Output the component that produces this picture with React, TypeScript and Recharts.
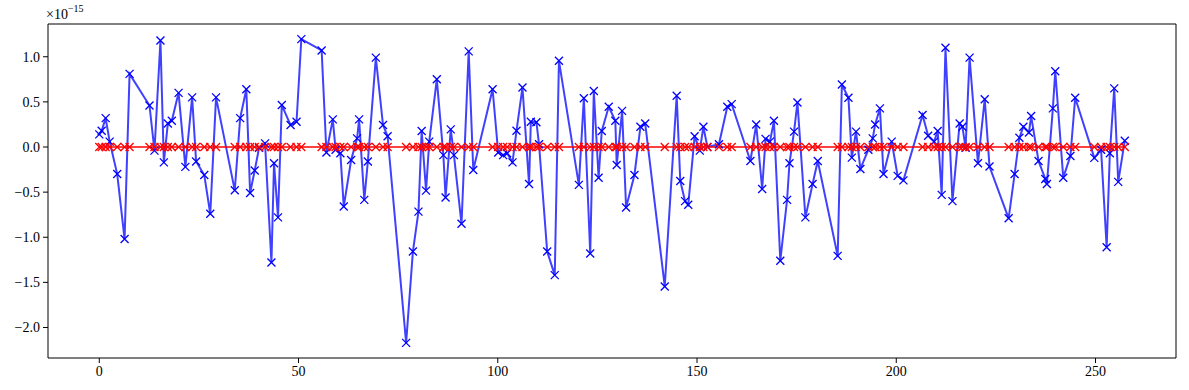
import { LineChart, Line, XAxis, YAxis, ReferenceArea } from "recharts";

// sample positions (shared by both series)
const X_POS = [
  0, 0.6, 1.6, 2.6, 4.5, 6.35, 7.6, 12.6, 13.85, 15.35, 16.2, 17.2, 18.2, 19.9, 21.6, 23.3, 24.3,
  26.35, 27.85, 29.3, 34.0, 35.35, 36.9, 37.85, 39.0, 40.1, 41.6, 43.2, 43.85, 44.85, 45.8, 48.0,
  49.5, 50.7, 55.8, 57.0, 58.6, 59.3, 60.5, 61.35, 63.2, 64.7, 65.2, 66.5, 67.4, 69.4, 71.2, 72.35,
  77.0, 78.7, 80.1, 80.9, 82.0, 82.8, 84.7, 86.35, 86.9, 88.2, 89.0, 90.9, 92.7, 93.85, 98.7, 100.1,
  101.35, 102.35, 103.7, 104.7, 106.2, 107.85, 108.3, 109.7, 110.35, 112.4, 114.3, 115.35, 120.35,
  121.6, 123.2, 124.1, 125.3, 126.1, 127.85, 129.5, 129.85, 131.2, 132.2, 134.3, 135.8, 137.0,
  141.9, 144.9, 145.8, 147.0, 147.8, 149.4, 150.7, 151.6, 152.6, 155.5, 157.6, 158.7, 163.4, 164.85,
  166.35, 167.2, 168.3, 169.3, 170.9, 172.6, 173.2, 174.35, 175.2, 177.2, 179.0, 180.3, 185.3,
  186.35, 188.0, 188.85, 189.9, 191.0, 193.0, 194.1, 194.7, 195.9, 196.8, 198.85, 200.35, 201.8,
  206.6, 208.0, 209.5, 210.4, 211.4, 212.35, 214.1, 215.9, 216.6, 217.4, 218.4, 220.5, 222.2, 223.4,
  228.2, 229.7, 230.9, 231.9, 233.3, 233.85, 235.7, 237.4, 237.8, 239.3, 239.9, 241.9, 243.7, 244.9,
  249.7, 251.4, 252.8, 253.6, 254.7, 255.7, 257.35,
];

// blue series, in units of 1e-15
const BLUE = [
  0.14, 0.18, 0.32, 0.06, -0.3, -1.02, 0.81, 0.46, -0.04, 1.18, -0.17, 0.26, 0.29, 0.6, -0.22, 0.55, -0.16,
  -0.31, -0.74, 0.55, -0.48, 0.32, 0.64, -0.51, -0.26, -0.01, 0.04, -1.28, -0.18, -0.78, 0.465, 0.243,
  0.28, 1.195, 1.07, -0.06, 0.306, -0.03, -0.07, -0.66, -0.144, 0.096, 0.306, -0.586, -0.16, 0.99, 0.243, 0.12,
  -2.17, -1.158, -0.716, 0.177, -0.483, 0.06, 0.75, -0.09, -0.56, 0.195, -0.09, -0.85, 1.06, -0.254, 0.64, -0.06,
  -0.09, -0.07, -0.17, 0.18, 0.66, -0.41, 0.28, 0.275, 0.03, -1.158, -1.42, 0.955, -0.42,
  0.54, -1.18, 0.62, -0.34, 0.177, 0.446, 0.29, -0.2, 0.4, -0.67, -0.31, 0.225, 0.26,
  -1.545, 0.568, -0.376, -0.6, -0.64, 0.12, -0.04, 0.225, 0.0, 0.03, 0.446, 0.475, -0.155, 0.25,
  -0.465, 0.09, 0.06, 0.29, -1.26, -0.586, -0.18, 0.17, 0.494, -0.78, -0.41, -0.155, -1.206,
  0.693, 0.545, -0.118, 0.17, -0.243, -0.03, 0.096, 0.25, 0.428, -0.3, 0.06, -0.32, -0.37,
  0.354, 0.125, 0.06, 0.177, -0.53, 1.1, -0.6, 0.26, 0.225, -0.01, 0.99, -0.18, 0.53, -0.216,
  -0.79, -0.3, 0.103, 0.225, 0.16, 0.343, -0.155, -0.354, -0.41, 0.428, 0.84, -0.34, -0.1, 0.545,
  -0.12, -0.03, -1.11, -0.07, 0.65, -0.386, 0.07,
];

// red series sits on zero everywhere
const RED = [
  0, 0, 0, 0, 0, 0, 0, 0, 0, 0, 0, 0, 0, 0, 0, 0, 0,
  0, 0, 0, 0, 0, 0, 0, 0, 0, 0, 0, 0, 0, 0, 0,
  0, 0, 0, 0, 0, 0, 0, 0, 0, 0, 0, 0, 0, 0, 0, 0,
  0, 0, 0, 0, 0, 0, 0, 0, 0, 0, 0, 0, 0, 0, 0, 0,
  0, 0, 0, 0, 0, 0, 0, 0, 0, 0, 0, 0, 0,
  0, 0, 0, 0, 0, 0, 0, 0, 0, 0, 0, 0, 0,
  0, 0, 0, 0, 0, 0, 0, 0, 0, 0, 0, 0, 0, 0,
  0, 0, 0, 0, 0, 0, 0, 0, 0, 0, 0, 0, 0,
  0, 0, 0, 0, 0, 0, 0, 0, 0, 0, 0, 0, 0,
  0, 0, 0, 0, 0, 0, 0, 0, 0, 0, 0, 0, 0, 0,
  0, 0, 0, 0, 0, 0, 0, 0, 0, 0, 0, 0, 0, 0,
  0, 0, 0, 0, 0, 0, 0,
];

const X_TICKS = [0, 50, 100, 150, 200, 250];
const Y_TICKS = [-2, -1.5, -1, -0.5, 0, 0.5, 1];
const X_DOMAIN = [-12.87, 270.2];
const Y_DOMAIN = [-2.338, 1.363];

const data = X_POS.map((x, i) => ({ x, blue: BLUE[i], red: RED[i] }));

const FONT = "'Liberation Serif', 'DejaVu Serif', serif";

const fmtY = (v: number) => (v < 0 ? "\u2212" : "") + Math.abs(v).toFixed(1);

const XMark = (props: { cx?: number; cy?: number; stroke?: string; index?: number }) => {
  const { cx, cy, stroke } = props;
  if (cx == null || cy == null) return <g key={props.index} />;
  const r = 4;
  return (
    <path
      key={props.index}
      d={`M${cx - r},${cy - r}L${cx + r},${cy + r}M${cx - r},${cy + r}L${cx + r},${cy - r}`}
      stroke={stroke}
      strokeWidth={1.3}
      fill="none"
    />
  );
};

export default function App() {
  return (
    <div style={{ position: "relative", width: 1189, height: 390, background: "#fff" }}>
      <style>{"body{margin:0}"}</style>
      <LineChart width={1189} height={390} data={data} margin={{ top: 24, right: 13, bottom: 0, left: 0 }}>
        <XAxis
          dataKey="x"
          type="number"
          domain={X_DOMAIN}
          ticks={X_TICKS}
          allowDataOverflow
          height={32}
          axisLine={false}
          tickLine={{ stroke: "#000" }}
          tickSize={5}
          tickMargin={3}
          tick={{ fill: "#000", fontSize: 14, fontFamily: FONT }}
        />
        <YAxis
          type="number"
          domain={Y_DOMAIN}
          ticks={Y_TICKS}
          allowDataOverflow
          width={48}
          axisLine={false}
          tickLine={{ stroke: "#000" }}
          tickSize={5}
          tickMargin={3}
          tickFormatter={fmtY}
          tick={{ fill: "#000", fontSize: 14, fontFamily: FONT }}
        />
        <ReferenceArea
          x1={X_DOMAIN[0]}
          x2={X_DOMAIN[1]}
          y1={Y_DOMAIN[0]}
          y2={Y_DOMAIN[1]}
          fill="none"
          stroke="#000"
          strokeWidth={1}
        />
        <Line
          dataKey="blue"
          type="linear"
          stroke="#0000ff"
          strokeOpacity={0.75}
          strokeWidth={2}
          dot={<XMark />}
          activeDot={false}
          isAnimationActive={false}
        />
        <Line
          dataKey="red"
          type="linear"
          stroke="#ff0000"
          strokeOpacity={0.75}
          strokeWidth={2}
          dot={<XMark />}
          activeDot={false}
          isAnimationActive={false}
        />
      </LineChart>
      <div
        style={{
          position: "absolute",
          left: 46,
          top: 4,
          fontFamily: FONT,
          fontSize: 14,
          color: "#000",
          whiteSpace: "nowrap",
        }}
      >
        ×10<sup style={{ fontSize: 10, position: "relative", top: -1 }}>−15</sup>
      </div>
    </div>
  );
}
